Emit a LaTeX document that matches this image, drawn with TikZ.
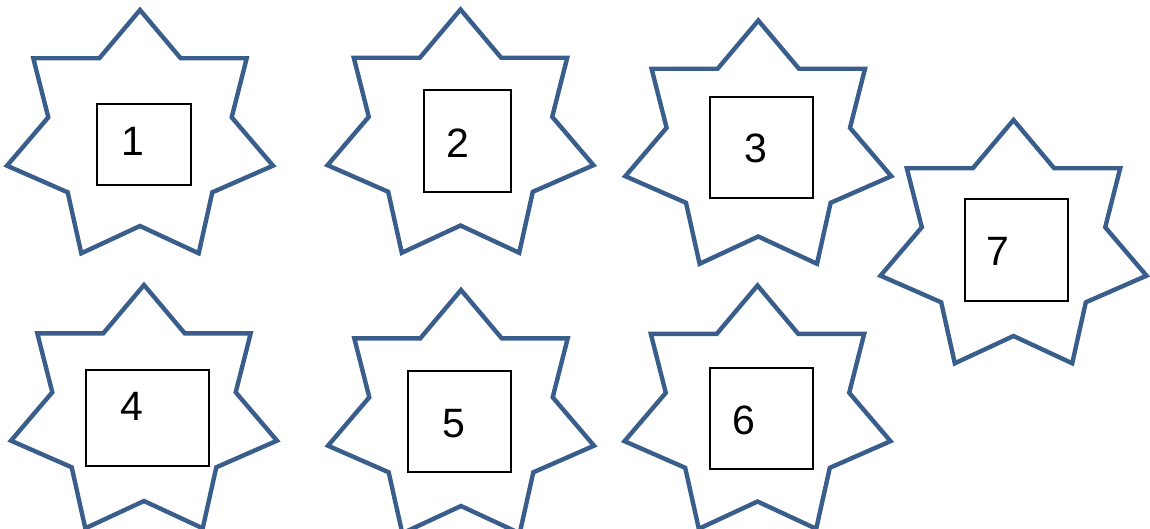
\documentclass[tikz,border=0pt]{standalone}
\usepackage{fontspec}
\setmainfont{Liberation Sans}
\definecolor{starblue}{RGB}{57,94,139}
\tikzset{
  starline/.style={draw=starblue, line width=4.4pt},
  numbox/.style={draw=black, line width=1.9pt, inner sep=0pt},
  numtext/.style={inner sep=0pt, font=\fontsize{41}{48}\selectfont},
  sevenstar/.pic={
    \path[starline] (0,0) -- (40.7,48.3) -- (106.7,48.3) -- (91.7,107.3) -- (133,155.7)
      -- (72.3,182.3) -- (58.7,243.3) -- (0,216) -- (-58.7,243.3) -- (-72.3,182.3)
      -- (-133,155.7) -- (-91.7,107.3) -- (-106.7,48.3) -- (-40.7,48.3) -- cycle;
  }
}
\begin{document}
\begin{tikzpicture}[x=1pt,y=-1pt]
\useasboundingbox (0,0) rectangle (1150,529);
% stars
\pic (s1) at (140,10) {sevenstar};
\pic (s2) at (460.5,9.5) {sevenstar};
\pic (s3) at (758.3,20.5) {sevenstar};
\pic (s7) at (1013.5,120) {sevenstar};
\pic (s4) at (144,285) {sevenstar};
\pic (s5) at (461,290) {sevenstar};
\pic (s6) at (757.5,285.5) {sevenstar};
% boxes
\node[numbox, minimum width=94pt, minimum height=80.7pt] (b1) at (143.7,144.65) {};
\node[numbox, minimum width=86.7pt, minimum height=101.7pt] (b2) at (467.35,140.85) {};
\node[numbox, minimum width=103.3pt, minimum height=101pt] (b3) at (761.65,147.2) {};
\node[numbox, minimum width=103.3pt, minimum height=101.4pt] (b7) at (1016.35,250) {};
\node[numbox, minimum width=123.6pt, minimum height=96.3pt] (b4) at (147.5,417.85) {};
\node[numbox, minimum width=103pt, minimum height=101.6pt] (b5) at (459.8,421.5) {};
\node[numbox, minimum width=103pt, minimum height=100.7pt] (b6) at (761.5,418.65) {};
% labels
\node[numtext] (t1) at (132.7,141) {1};
\node[numtext] (t2) at (457.7,142.7) {2};
\node[numtext] (t3) at (756,148.3) {3};
\node[numtext] (t7) at (998.3,251.7) {7};
\node[numtext] (t4) at (131.7,406.7) {4};
\node[numtext] (t5) at (454.3,423.3) {5};
\node[numtext] (t6) at (744.3,420) {6};
\end{tikzpicture}
\end{document}
